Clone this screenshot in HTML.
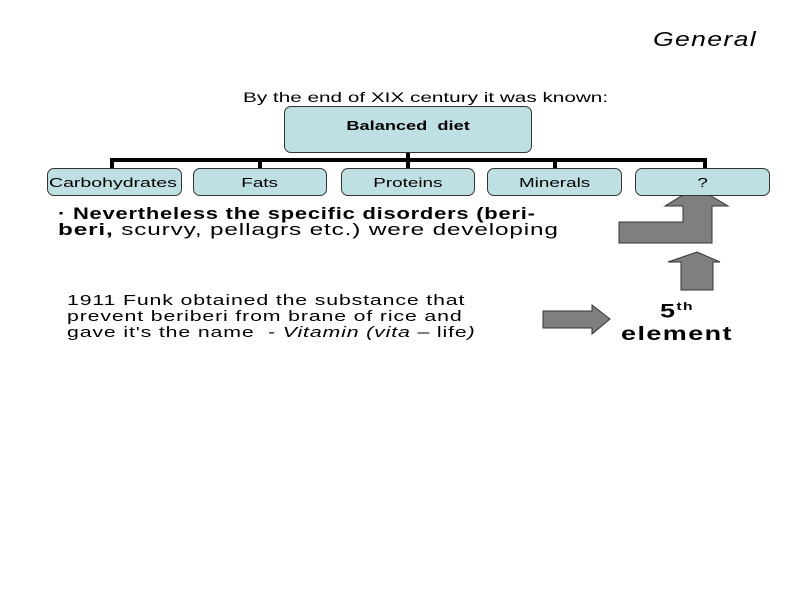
<!DOCTYPE html>
<html><head><meta charset="utf-8"><style>
body{margin:0;width:800px;height:600px;background:#fff;position:relative;overflow:hidden;font-family:"Liberation Sans",sans-serif;}
.t{position:absolute;white-space:nowrap;color:#000;transform-origin:0 0;}
.b{position:absolute;background:#bfe0e3;border:1px solid #333;border-radius:7px;box-sizing:border-box;display:flex;align-items:center;justify-content:center;font-size:13px;}
.b span{display:inline-block;transform:scaleX(1.45);}
</style></head><body>
<div class="t" style="left:653px;top:29px;font-size:20px;font-style:italic;letter-spacing:1px;transform:scaleX(1.33)">General</div>
<div class="t" style="left:243px;top:89px;font-size:14px;transform:scaleX(1.48)">By the end of XIX century it was known:</div>
<svg style="position:absolute;left:0;top:0" width="800" height="600">
<g fill="none" stroke="#000" stroke-width="4">
<path d="M112 168V160H705V168M260 160V168M408 153V168M555 160V168"/>
</g>
<g fill="#7f7f7f" stroke="#333" stroke-width="1">
<polygon points="696,187 728,206 712,206 712,243 619,243 619,222 683,222 683,206 665,206"/>
<polygon points="697,252 720,262 713,262 713,290 681,290 681,262 668,262"/>
<polygon points="543,311 592,311 592,305 610,319 592,334 592,328 543,328"/>
</g>
</svg>
<div class="b" style="left:284px;top:106px;width:248px;height:47px;font-weight:bold;align-items:flex-start;padding-top:11px"><span style="transform:scaleX(1.4)">Balanced&nbsp; diet</span></div>
<div class="b" style="left:47px;top:168px;width:135px;height:28px;justify-content:flex-start;padding-left:1px"><span style="transform-origin:0 0;transform:scaleX(1.5)">Carbohydrates</span></div>
<div class="b" style="left:193px;top:168px;width:134px;height:28px"><span>Fats</span></div>
<div class="b" style="left:341px;top:168px;width:134px;height:28px"><span>Proteins</span></div>
<div class="b" style="left:487px;top:168px;width:135px;height:28px"><span>Minerals</span></div>
<div class="b" style="left:635px;top:168px;width:135px;height:28px"><span>?</span></div>
<div class="t" style="left:58px;top:204px;font-size:17px;font-weight:bold;letter-spacing:0.6px;transform:scaleX(1.29)">· Nevertheless the specific disorders (beri-</div>
<div class="t" style="left:58px;top:220px;font-size:17px;letter-spacing:0.6px;transform:scaleX(1.43)"><b>beri,</b> scurvy, pellagrs etc.) were developing</div>
<div class="t" style="left:67px;top:293px;font-size:15px;line-height:16px;letter-spacing:0.6px;transform:scaleX(1.42)">1911 Funk obtained the substance that<br>prevent beriberi from brane of rice and<br>gave it's the name&nbsp; - <i>Vitamin (vita</i> – life<i>)</i></div>
<div class="t" style="left:622px;top:296px;font-size:19px;font-weight:bold;line-height:23px;text-align:center;width:110px;letter-spacing:1px;transform-origin:50% 0;transform:scaleX(1.42)">5<sup style="font-size:11px">th</sup><br>element</div>
</body></html>
